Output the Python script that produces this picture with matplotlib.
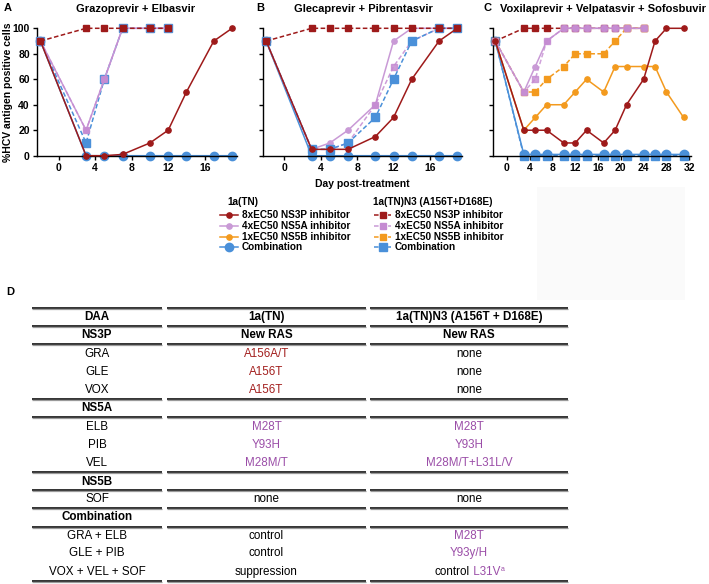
import matplotlib.pyplot as plt
from matplotlib.patches import Rectangle

plt.rcParams['font.family'] = ['Liberation Sans', 'DejaVu Sans']

W, H = 709, 584

# 색상
RED = '#9e1a1a'
PINK = '#c99ad6'
PINK_D = '#c58bd2'
ORANGE = '#f39a1e'
BLUE = '#4a90d9'
TXT_RED = '#a3201f'
TXT_PUR = '#9b4ea8'

# ---- Panel A: Grazoprevir + Elbasvir ----
a_days = [-2, 3, 5, 7, 10, 12, 14, 17, 19]
a_days_short = [-2, 3, 5, 7, 10, 12]
a_ns3p_tn = [90, 0, 0, 1, 10, 20, 50, 90, 100]
a_combo_tn = [90, 0, 0, 0, 0, 0, 0, 0, 0]
a_ns5a_tn = [90, 20, 60, 100, 100, 100]
a_ns3p_n3 = [90, 100, 100, 100, 100, 100]
a_ns5a_n3 = [90, 20, 60, 100, 100, 100]
a_combo_n3 = [90, 10, 60, 100, 100, 100]

# ---- Panel B: Glecaprevir + Pibrentasvir ----
b_days = [-2, 3, 5, 7, 10, 12, 14, 17, 19]
b_ns3p_tn = [90, 5, 5, 5, 15, 30, 60, 90, 100]
b_ns5a_tn = [90, 5, 10, 20, 40, 90, 100, 100, 100]
b_combo_tn = [90, 0, 0, 0, 0, 0, 0, 0, 0]
b_ns3p_n3 = [90, 100, 100, 100, 100, 100, 100, 100, 100]
b_ns5a_n3 = [90, 5, 5, 10, 40, 70, 90, 100, 100]
b_combo_n3 = [90, 5, 5, 10, 30, 60, 90, 100, 100]

# ---- Panel C: Voxilaprevir + Velpatasvir + Sofosbuvir ----
c_days = [-2, 3, 5, 7, 10, 12, 14, 17, 19, 21, 24, 26, 28, 31]
c_days_short = [-2, 3, 5, 7, 10, 12, 14, 17, 19, 21, 24]
c_ns3p_tn = [90, 20, 20, 20, 10, 10, 20, 10, 20, 40, 60, 90, 100, 100]
c_ns5b_tn = [90, 20, 30, 40, 40, 50, 60, 50, 70, 70, 70, 70, 50, 30]
c_combo_tn = [90, 1, 1, 1, 1, 1, 1, 1, 1, 1, 1, 1, 1, 1]
c_combo_n3 = [90, 0, 0, 0, 0, 0, 0, 0, 0, 0, 0, 0, 0, 0]
c_ns3p_n3 = [90, 100, 100, 100, 100, 100, 100, 100, 100, 100, 100]
c_ns5a_tn = [90, 50, 70, 90, 100, 100, 100, 100, 100, 100, 100]
c_ns5a_n3 = [90, 50, 60, 90, 100, 100, 100, 100, 100, 100, 100]
c_ns5b_n3 = [90, 50, 50, 60, 70, 80, 80, 80, 90, 100, 100]

# ---- Table D ----
table_rows = [
    ('DAA', '1a(TN)', '1a(TN)N3 (A156T + D168E)'),
    ('NS3P', 'New RAS', 'New RAS'),
    ('GRA', 'A156A/T', 'none'),
    ('GLE', 'A156T', 'none'),
    ('VOX', 'A156T', 'none'),
    ('NS5A', '', ''),
    ('ELB', 'M28T', 'M28T'),
    ('PIB', 'Y93H', 'Y93H'),
    ('VEL', 'M28M/T', 'M28M/T+L31L/V'),
    ('NS5B', '', ''),
    ('SOF', 'none', 'none'),
    ('Combination', '', ''),
    ('GRA + ELB', 'control', 'M28T'),
    ('GLE + PIB', 'control', 'Y93y/H'),
    ('VOX + VEL + SOF', 'suppression', None),
]
bold_rows = [0, 1, 5, 9, 11]
row_y = [317, 335, 354, 372, 390, 408, 427, 445, 463, 482, 499, 517, 536, 553, 572]
line_y = [308, 326, 344, 399, 417, 472, 490, 508, 527, 581]
col_span = [(32, 162), (167, 366), (370, 568)]


def text_color(s):
    if s.startswith('A156'):
        return TXT_RED
    if s[:1] in ('M', 'Y'):
        return TXT_PUR
    return 'black'


def px(x, y):
    return x / W, 1 - y / H


fig = plt.figure(figsize=(W / 100, H / 100), dpi=100)

# 배경 오버레이 (텍스트, 범례, 표)
ov = fig.add_axes([0, 0, 1, 1])
ov.set_xlim(0, W)
ov.set_ylim(H, 0)
ov.axis('off')


def make_ax(left_px, right_px, xlim, xticks):
    l, _ = px(left_px, 0)
    r, _ = px(right_px, 0)
    _, b = px(0, 155.7)
    _, t = px(0, 28.3)
    ax = fig.add_axes([l, b, r - l, t - b])
    ax.set_xlim(*xlim)
    ax.set_ylim(0, 100)
    ax.set_xticks(xticks)
    ax.set_yticks(range(0, 101, 20))
    for s in ['top', 'right']:
        ax.spines[s].set_visible(False)
    for s in ['left', 'bottom']:
        ax.spines[s].set_linewidth(1.0)
    ax.tick_params(length=3, width=1, labelsize=7.5, pad=2)
    for lab in ax.get_xticklabels() + ax.get_yticklabels():
        lab.set_fontweight('bold')
    ax.patch.set_alpha(0)
    return ax


def tn(ax, x, y, c, ms=3.8, z=3):
    ax.plot(x, y, '-', color=c, lw=1.1, marker='o', ms=ms, mec=c, mfc=c,
            clip_on=False, zorder=z)


def n3(ax, x, y, c, ms=4.5, z=3, alpha=1.0):
    ax.plot(x, y, '--', color=c, lw=1.1, marker='s', ms=ms, mec=c, mfc=c,
            dashes=(3, 1.6), clip_on=False, zorder=z, alpha=alpha)


axA = make_ax(36.8, 236.6, (-2.4, 19.5), [0, 4, 8, 12, 16])
tn(axA, a_days, a_combo_tn, BLUE, ms=6, z=2)
n3(axA, a_days_short, a_combo_n3, BLUE, ms=5.8, z=3)
tn(axA, a_days_short, a_ns5a_tn, PINK, z=4)
n3(axA, a_days_short, a_ns5a_n3, PINK_D, ms=3.8, z=4, alpha=0.85)
n3(axA, a_days_short, a_ns3p_n3, RED, z=5)
tn(axA, a_days, a_ns3p_tn, RED, z=5)

axB = make_ax(262.5, 461.8, (-2.4, 19.5), [0, 4, 8, 12, 16])
axB.set_yticklabels([])
tn(axB, b_days, b_combo_tn, BLUE, ms=6, z=2)
tn(axB, b_days, b_ns5a_tn, PINK, z=3)
n3(axB, b_days, b_ns5a_n3, PINK_D, ms=3.8, z=3, alpha=0.85)
n3(axB, b_days, b_combo_n3, BLUE, ms=5.8, z=4)
n3(axB, b_days, b_ns3p_n3, RED, z=5)
tn(axB, b_days, b_ns3p_tn, RED, z=5)

axC = make_ax(493, 691, (-2.4, 32.3), list(range(0, 33, 4)))
axC.set_yticklabels([])
n3(axC, c_days, c_combo_n3, BLUE, ms=5.5, z=2)
tn(axC, c_days, c_combo_tn, BLUE, ms=6, z=2)
n3(axC, c_days_short, c_ns3p_n3, RED, z=3)
n3(axC, c_days_short, c_ns5b_n3, ORANGE, ms=4, z=3)
tn(axC, c_days, c_ns5b_tn, ORANGE, z=3)
tn(axC, c_days_short, c_ns5a_tn, PINK, z=4)
n3(axC, c_days_short, c_ns5a_n3, PINK_D, ms=3.8, z=4, alpha=0.8)
tn(axC, c_days, c_ns3p_tn, RED, z=5)

# 패널 라벨과 제목
for lx, letter, cx, title in [(4, 'A', 135.5, 'Grazoprevir + Elbasvir'),
                              (256, 'B', 363.5, 'Glecaprevir + Pibrentasvir'),
                              (484, 'C', 603.5, 'Voxilaprevir + Velpatasvir + Sofosbuvir')]:
    ov.text(lx, 8, letter, fontsize=8, fontweight='bold', ha='left', va='center')
    ov.text(cx, 8.5, title, fontsize=8, fontweight='bold', ha='center', va='center')

ov.text(8, 92, '%HCV antigen positive cells', fontsize=7.5, fontweight='bold',
        rotation=90, ha='center', va='center')
ov.text(362, 184, 'Day post-treatment', fontsize=7.5, fontweight='bold',
        ha='center', va='center')

# 범례
ov.add_patch(Rectangle((537, 187), 148, 113, color='#fafafa', lw=0, zorder=0))
leg_labels = ['8xEC50 NS3P inhibitor', '4xEC50 NS5A inhibitor',
              '1xEC50 NS5B inhibitor', 'Combination']
leg_colors = [RED, PINK, ORANGE, BLUE]
leg_y = [215, 226, 237, 247]
ov.text(227, 202, '1a(TN)', fontsize=7.2, fontweight='bold', ha='left', va='center')
ov.text(373, 202, '1a(TN)N3 (A156T+D168E)', fontsize=7.2, fontweight='bold',
        ha='left', va='center')
for i, (lab, c, yy) in enumerate(zip(leg_labels, leg_colors, leg_y)):
    big = i == 3
    ov.plot([220, 238], [yy, yy], '-', color=c, lw=1.1)
    ov.plot([229], [yy], 'o', color=c, ms=6 if big else 3.8)
    ov.text(242, yy, lab, fontsize=7.2, fontweight='bold', ha='left', va='center')
    ov.plot([374, 391], [yy, yy], '--', color=c, lw=1.1, dashes=(3, 1.6))
    ov.plot([382.5], [yy], 's', color=PINK_D if c == PINK else c,
            ms=5.5 if big else 3.8)
    ov.text(395, yy, lab, fontsize=7.2, fontweight='bold', ha='left', va='center')

# 표 D
ov.text(6, 292, 'D', fontsize=8, fontweight='bold', ha='left', va='center')
for ly in line_y:
    for x0, x1 in col_span:
        ov.plot([x0, x1], [ly, ly], color='#222222', lw=1.3, solid_capstyle='butt')
        ov.plot([x0, x1], [ly + 1.4, ly + 1.4], color='#9a9a9a', lw=0.9,
                solid_capstyle='butt')

col_cx = [(a + b) / 2 for a, b in col_span]
for i, (row, yy) in enumerate(zip(table_rows, row_y)):
    bold = i in bold_rows
    for j, s in enumerate(row):
        if s is None:
            continue
        c = 'black' if bold else text_color(s)
        ov.text(col_cx[j], yy, s, fontsize=8.4, ha='center', va='center', color=c,
                fontweight='bold' if bold else 'normal')

# 마지막 줄 (control L31Vª)
t1 = ov.text(470, 572, 'control', fontsize=8.4, ha='right', va='center')
t2 = ov.annotate(' L31V', xy=(1, 0), xycoords=t1, ha='left', va='bottom',
                 fontsize=8.4, color=TXT_PUR)
ov.annotate('a', xy=(1, 1), xycoords=t2, ha='left', va='top', fontsize=5,
            color=TXT_PUR)

fig.savefig('out.png', dpi=100)
